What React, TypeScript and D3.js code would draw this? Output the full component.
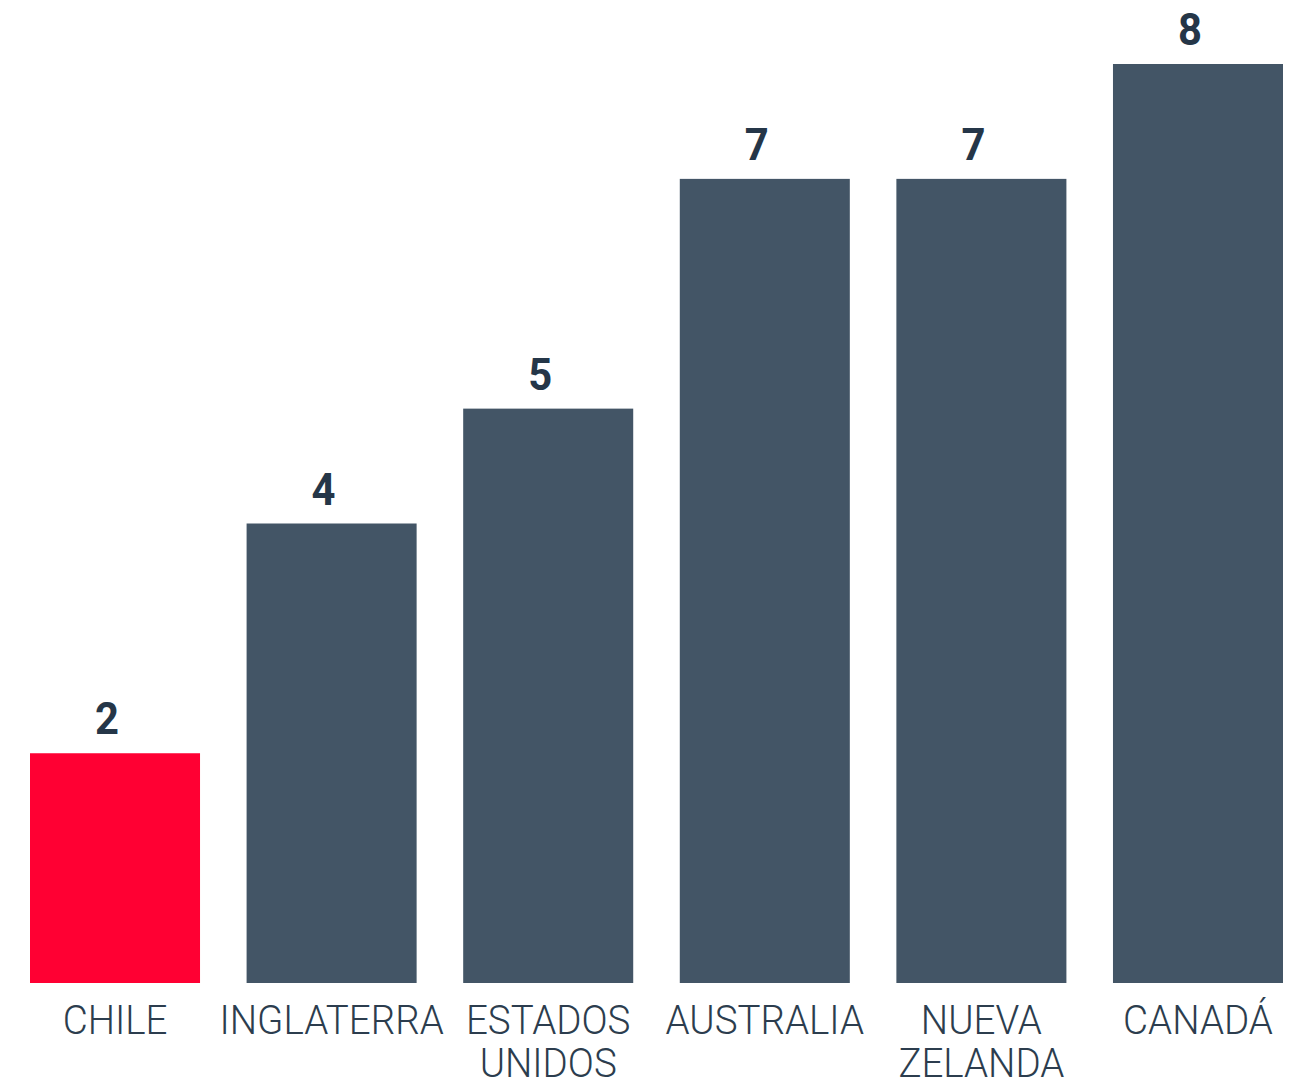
import React from "react";
import * as d3 from "d3";

const categories = ["CHILE", "INGLATERRA", "ESTADOS UNIDOS", "AUSTRALIA", "NUEVA ZELANDA", "CANADÁ"];
const labelLines = [["CHILE"], ["INGLATERRA"], ["ESTADOS", "UNIDOS"], ["AUSTRALIA"], ["NUEVA", "ZELANDA"], ["CANADÁ"]];
const values = [2, 4, 5, 7, 7, 8];
const highlight = ["CHILE"];

const W = 1313;
const H = 1081;

export default function App() {
  const x = d3.scaleBand<string>().domain(categories).range([30, 1283]).paddingInner(0.215).paddingOuter(0);
  const y = d3.scaleLinear().domain([0, 8]).range([983, 64]);
  const bw = x.bandwidth();
  return (
    <svg width={W} height={H} style={{ position: "absolute", left: 0, top: 0, background: "#fff" }}>
      {categories.map((c, i) => {
        const x0 = x(c)!;
        const cx = x0 + bw / 2;
        const v = values[i];
        return (
          <g key={c}>
            <rect x={x0} y={y(v)} width={bw} height={y(0) - y(v)} fill={highlight.includes(c) ? "#ff0033" : "#435566"} />
            <text
              x={0}
              y={0}
              transform={`translate(${cx - 8},${y(v) - 19}) scale(0.95,1)`}
              textAnchor="middle"
              fontFamily="Roboto, sans-serif"
              fontWeight={700}
              fontSize={44}
              fill="#253648"
            >
              {v}
            </text>
            {labelLines[i].map((ln, j) => (
              <text
                key={j}
                x={0}
                y={0}
                transform={`translate(${cx},${1034 + j * 43}) scale(0.94,1)`}
                textAnchor="middle"
                fontFamily="Roboto, sans-serif"
                fontWeight={300}
                fontSize={41}
                fill="#2c3d4e"
              >
                {ln}
              </text>
            ))}
          </g>
        );
      })}
    </svg>
  );
}
